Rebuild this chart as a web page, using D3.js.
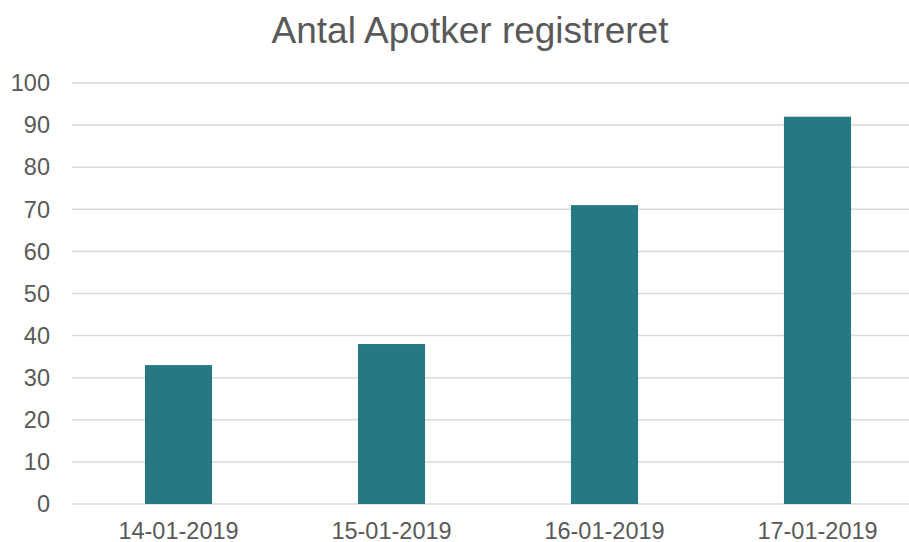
<!DOCTYPE html>
<meta charset="utf-8">
<script src="https://d3js.org/d3.v7.min.js"></script>
<style>
  body { margin: 0; background: #fff; }
  svg text { font-family: "Liberation Sans", Arial, sans-serif; fill: #595959; }
</style>
<div id="my_dataviz"></div>
<script>

// data
var dates = ["14-01-2019", "15-01-2019", "16-01-2019", "17-01-2019"];
var counts = [33, 38, 71, 92];
var yTicks = [0, 10, 20, 30, 40, 50, 60, 70, 80, 90, 100];
var title = "Antal Apotker registreret";

// dimensions
var W = 909, H = 542;
var margin = {top: 83, left: 72, bottom: 38},
    width = 852,
    height = H - margin.top - margin.bottom;

var svg = d3.select("#my_dataviz")
  .append("svg")
    .attr("width", W)
    .attr("height", H);

var g = svg.append("g")
    .attr("transform", "translate(" + margin.left + "," + margin.top + ")");

// scales
var x = d3.scaleBand().domain(dates).range([0, width]).paddingInner(0.685).paddingOuter(0.3425);
var y = d3.scaleLinear().domain([0, 100]).range([height, 0]);

// gridlines
g.selectAll("grid")
  .data(yTicks)
  .enter()
  .append("line")
    .attr("x1", 0)
    .attr("x2", width)
    .attr("y1", function(d) { return y(d) })
    .attr("y2", function(d) { return y(d) })
    .style("stroke", "#d9d9d9")
    .style("stroke-width", 1.5)

// y labels
g.selectAll("ylab")
  .data(yTicks)
  .enter()
  .append("text")
    .attr("x", -22)
    .attr("y", function(d) { return y(d) })
    .attr("dy", "0.35em")
    .attr("text-anchor", "end")
    .style("font-size", "23.5px")
    .text(function(d) { return d })

// bars
g.selectAll("bars")
  .data(dates)
  .enter()
  .append("rect")
    .attr("x", function(d) { return x(d) })
    .attr("width", x.bandwidth())
    .attr("y", function(d, i) { return y(counts[i]) })
    .attr("height", function(d, i) { return height - y(counts[i]) })
    .style("fill", "#267883")

// x labels
g.selectAll("xlab")
  .data(dates)
  .enter()
  .append("text")
    .attr("x", function(d) { return x(d) + x.bandwidth() / 2 })
    .attr("y", height + 34.5)
    .attr("text-anchor", "middle")
    .style("font-size", "23.5px")
    .text(function(d) { return d })

// title
svg.append("text")
    .attr("x", 470)
    .attr("y", 43)
    .attr("text-anchor", "middle")
    .style("font-size", "37px")
    .text(title);

</script>
